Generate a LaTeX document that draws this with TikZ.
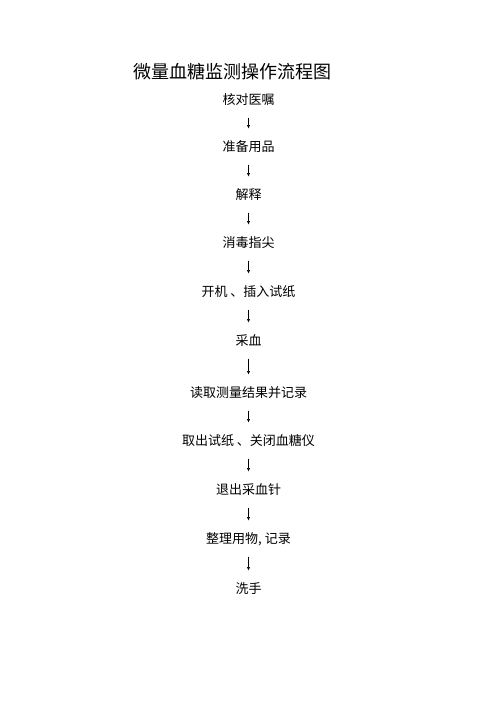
\documentclass[tikz,border=0pt]{standalone}
\usepackage{fontspec}
\newfontfamily\cjk{Noto Sans CJK SC}
\usetikzlibrary{arrows.meta}

\begin{document}
\begin{tikzpicture}[x=1pt,y=1pt,
    stepname/.style={inner sep=0pt,text height=10pt,text depth=3pt,font=\cjk\fontsize{13}{13}\selectfont},
    flowarrow/.style={-{Triangle[length=3.2pt,width=2.8pt]},line width=0.5pt,shorten <=10pt,shorten >=13pt}]
    \useasboundingbox (0,0) rectangle (496,-702);
    \node[inner sep=0pt,font=\cjk\fontsize{18}{18}\selectfont] (title) at (232,-72) {微量血糖监测操作流程图};
    \def\ss{101/核对医嘱,148/准备用品,196/解释,244/消毒指尖,293/开机 、插入试纸,342/采血,394/读取测量结果并记录,442/取出试纸 、关闭血糖仪,491/退出采血针,540/{整理用物, 记录},590/洗手}
    %        1         2          3        4          5                6        7                    8                       9            10                  11
    \foreach \y/\t [count=\i from 1] in \ss {\node[stepname] (s\i) at (248.5,-\y) {\t};}
    \foreach \i [evaluate=\i as \j using int(\i+1)] in {1,...,10} {\draw[flowarrow] (s\i.south)--(s\j.north);}
  \end{tikzpicture}
\end{document}
